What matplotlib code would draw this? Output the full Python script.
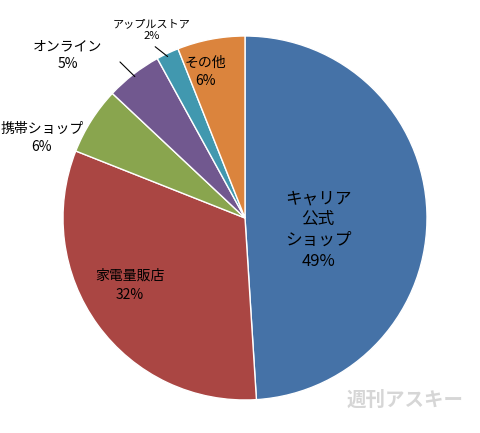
import numpy as np
import matplotlib
matplotlib.use("Agg")
import matplotlib.pyplot as plt

plt.rcParams['font.family'] = ['Noto Sans CJK JP', 'DejaVu Sans']

labels = ["キャリア\n公式\nショップ", "家電量販店", "携帯ショップ", "オンライン", "アップルストア", "その他"]
values = [49, 32, 6, 5, 2, 6]
colors = ["#4572A7", "#AA4643", "#89A54E", "#71588F", "#4198AF", "#DB843D"]

fig = plt.figure(figsize=(4.8, 4.33), dpi=100)
ax = fig.add_axes([245/480 - 182/480, (433-218)/433 - 182/433, 364/480, 364/433])
wedges, _ = ax.pie(values, colors=colors, startangle=90, counterclock=False,
                   wedgeprops=dict(edgecolor="white", linewidth=1))
ax.set_xlim(-1, 1); ax.set_ylim(-1, 1); ax.set_aspect('equal')

def p(px, py):
    return ((px - 245) / 182, (218 - py) / 182)

ax.text(*p(318, 230), f"{labels[0]}\n{values[0]}%", ha='center', va='center', fontsize=12, linespacing=1.3)
ax.text(*p(130, 285), f"{labels[1]}\n{values[1]}%", ha='center', va='center', fontsize=10, linespacing=1.5)
ax.text(*p(205, 72), f"{labels[5]}\n{values[5]}%", ha='center', va='center', fontsize=10, linespacing=1.3)
ax.text(*p(42, 138), f"{labels[2]}\n{values[2]}%", ha='center', va='center', fontsize=10, linespacing=1.3, clip_on=False)
ax.text(*p(68, 55), f"{labels[3]}\n{values[3]}%", ha='center', va='center', fontsize=10, linespacing=1.3, clip_on=False)
ax.text(*p(152, 30), f"{labels[4]}\n{values[4]}%", ha='center', va='center', fontsize=8, linespacing=1.3, clip_on=False)

for idx, (sx, sy) in [(3, (118, 60)), (4, (153, 45))]:
    w = wedges[idx]
    ang = np.deg2rad((w.theta1 + w.theta2) / 2)
    ax.annotate("", xy=(0.97*np.cos(ang), 0.97*np.sin(ang)), xytext=p(sx, sy),
                arrowprops=dict(arrowstyle='-', color='black', lw=0.8))

fig.text(405/480, 1 - 400/433, "週刊アスキー", ha='center', va='center', fontsize=14,
         color='#cccccc', fontweight='bold', alpha=0.8)
fig.savefig("out.png", dpi=100)
